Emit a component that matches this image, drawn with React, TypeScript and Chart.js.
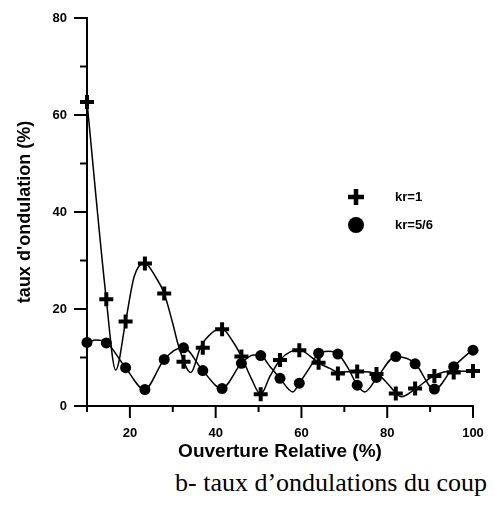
import React, { useEffect, useRef } from "react";
import { Chart, registerables } from "chart.js";

Chart.register(...registerables);

// marker positions
const openings = [10, 14.5, 19, 23.5, 28, 32.5, 37, 41.5, 46, 50.5, 55, 59.5, 64, 68.5, 73, 77.5, 82, 86.5, 91, 95.5, 100];
const krOne = [62.7, 22.0, 17.4, 29.4, 23.2, 9.1, 12.0, 15.8, 10.2, 2.4, 9.5, 11.5, 8.9, 6.7, 7.1, 6.6, 2.6, 3.6, 6.2, 6.9, 7.2];
const krFiveSixths = [13.1, 13.0, 7.9, 3.4, 9.6, 12.0, 7.3, 3.6, 8.8, 10.4, 5.7, 4.7, 10.9, 10.7, 4.3, 5.9, 10.2, 8.7, 3.5, 8.1, 11.5];

// continuous curves (including unmarked extremes)
const krOneCurveX = [10, 14.5, 16.7, 19, 21, 23.4, 26, 28, 30, 31.4, 34.2, 36.5, 39, 41.4, 44, 46, 48.3, 50.5, 52.7, 55, 57.5, 59.8, 62, 64, 66.5, 68.6, 73.2, 77.7, 80, 83.3, 86.5, 91, 95.5, 100];
const krOneCurveY = [62.7, 22.0, 7.4, 17.4, 26.7, 29.5, 26.6, 23.2, 17.0, 12.2, 6.9, 12.2, 15.0, 16.0, 13.3, 10.2, 5.7, 2.4, 6.2, 9.5, 11.2, 11.5, 10.3, 8.9, 7.8, 7.0, 7.1, 6.6, 4.7, 1.9, 3.5, 6.3, 7.2, 7.1];
const krFiveSixthsCurveX = [10, 12.2, 14.5, 19, 23.4, 28, 32.4, 37, 41.4, 46, 48.8, 50.5, 52.7, 55, 58, 59.5, 62, 64, 66.3, 68.6, 71, 73, 74.8, 77.5, 82, 86.5, 91, 95.5, 100];
const krFiveSixthsCurveY = [13.1, 13.6, 13.1, 7.9, 3.4, 9.6, 12.1, 7.3, 3.6, 8.8, 10.5, 10.4, 8.1, 5.7, 2.9, 4.7, 8.0, 10.9, 11.3, 10.7, 7.6, 4.3, 2.9, 5.7, 10.2, 8.8, 3.4, 8.1, 11.7];

const xTickLabels = [20, 40, 60, 80, 100];
const yTickLabels = [0, 20, 40, 60, 80];
const seriesNames = ["kr=1", "kr=5/6"];
const xTitle = "Ouverture Relative (%)";
const yTitle = "taux d'ondulation (%)";
const caption = "b- taux d\u2019ondulations du coup";

const FONT = "Arial, 'Liberation Sans', sans-serif";

const tickMarksPlugin = {
  id: "tickMarks",
  afterDraw(chart: any) {
    const ctx = chart.ctx;
    const xs = chart.scales.x;
    const ysc = chart.scales.y;
    const area = chart.chartArea;
    ctx.save();
    ctx.strokeStyle = "#000";
    ctx.lineWidth = 2;
    for (let v = 10; v <= 100; v += 10) {
      const X = xs.getPixelForValue(v);
      const len = v % 20 === 0 ? 12 : 6;
      ctx.beginPath();
      ctx.moveTo(X, area.bottom);
      ctx.lineTo(X, area.bottom + len);
      ctx.stroke();
    }
    for (let v = 0; v <= 80; v += 10) {
      const Y = ysc.getPixelForValue(v);
      const len = v % 20 === 0 ? 13 : 7;
      ctx.beginPath();
      ctx.moveTo(area.left, Y);
      ctx.lineTo(area.left - len, Y);
      ctx.stroke();
    }
    ctx.restore();
  },
};

const legendPlugin = {
  id: "customLegend",
  afterDraw(chart: any) {
    const ctx = chart.ctx;
    const mx = 356;
    const tx = 395;
    const y1 = 197;
    const y2 = 225;
    ctx.save();
    ctx.strokeStyle = "#000";
    ctx.fillStyle = "#000";
    ctx.lineWidth = 4.5;
    ctx.beginPath();
    ctx.moveTo(mx - 8, y1);
    ctx.lineTo(mx + 8, y1);
    ctx.moveTo(mx, y1 - 8);
    ctx.lineTo(mx, y1 + 8);
    ctx.stroke();
    ctx.beginPath();
    ctx.arc(mx, y2, 8, 0, Math.PI * 2);
    ctx.fill();
    ctx.font = "bold 13px " + FONT;
    ctx.textBaseline = "middle";
    ctx.textAlign = "left";
    ctx.fillText(seriesNames[0], tx, y1);
    ctx.fillText(seriesNames[1], tx, y2);
    ctx.restore();
  },
};

const curveStyle = {
  showLine: true,
  pointRadius: 0,
  pointHoverRadius: 0,
  borderColor: "#000",
  borderWidth: 1.5,
  cubicInterpolationMode: "monotone",
  fill: false,
  clip: false,
};

export default function App() {
  const ref = useRef<HTMLCanvasElement | null>(null);

  useEffect(() => {
    if (!ref.current) return;
    const chart = new Chart(ref.current, {
      type: "scatter",
      data: {
        datasets: [
          {
            label: seriesNames[0],
            data: openings.map((x, i) => ({ x, y: krOne[i] })),
            showLine: false,
            pointStyle: "cross",
            pointRadius: 7,
            pointHoverRadius: 7,
            pointBorderWidth: 4,
            pointHoverBorderWidth: 4,
            borderColor: "#000",
            backgroundColor: "#000",
            clip: false,
          } as any,
          {
            label: seriesNames[1],
            data: openings.map((x, i) => ({ x, y: krFiveSixths[i] })),
            showLine: false,
            pointStyle: "circle",
            pointRadius: 5.5,
            pointHoverRadius: 5.5,
            pointBorderWidth: 0,
            borderColor: "#000",
            backgroundColor: "#000",
            clip: false,
          } as any,
          {
            label: seriesNames[0] + " curve",
            data: krOneCurveX.map((x, i) => ({ x, y: krOneCurveY[i] })),
            ...curveStyle,
          } as any,
          {
            label: seriesNames[1] + " curve",
            data: krFiveSixthsCurveX.map((x, i) => ({ x, y: krFiveSixthsCurveY[i] })),
            ...curveStyle,
          } as any,
        ],
      },
      options: {
        animation: false,
        responsive: false,
        devicePixelRatio: 1,
        events: [],
        layout: { padding: { left: 0, top: 18, right: 22, bottom: 0 } },
        plugins: {
          legend: { display: false },
          tooltip: { enabled: false },
        },
        scales: {
          x: {
            type: "linear",
            min: 10,
            max: 100,
            afterBuildTicks: (s: any) => {
              s.ticks = xTickLabels.map((v) => ({ value: v }));
            },
            afterFit: (s: any) => {
              s.height = 59;
              s.paddingLeft = 0;
              s.paddingRight = 0;
            },
            grid: { display: false, drawTicks: false, tickLength: 0 },
            border: { display: true, color: "#000", width: 2 },
            ticks: {
              color: "#000",
              padding: 20,
              maxRotation: 0,
              autoSkip: false,
              font: { family: FONT, size: 13, weight: "bold" },
            },
            title: {
              display: true,
              text: xTitle,
              color: "#000",
              font: { family: FONT, size: 19, weight: "bold" },
              padding: { top: 0, bottom: 2 },
            },
          },
          y: {
            type: "linear",
            min: 0,
            max: 80,
            afterBuildTicks: (s: any) => {
              s.ticks = yTickLabels.map((v) => ({ value: v }));
            },
            afterFit: (s: any) => {
              s.width = 87;
              s.paddingTop = 0;
              s.paddingBottom = 0;
            },
            grid: { display: false, drawTicks: false, tickLength: 0 },
            border: { display: true, color: "#000", width: 2 },
            ticks: {
              color: "#000",
              padding: 20,
              autoSkip: false,
              font: { family: FONT, size: 13, weight: "bold" },
            },
            title: {
              display: true,
              text: yTitle,
              color: "#000",
              font: { family: FONT, size: 18, weight: "bold" },
              padding: { top: 14, bottom: 0 },
            },
          },
        },
      } as any,
      plugins: [tickMarksPlugin, legendPlugin],
    });
    return () => chart.destroy();
  }, []);

  return (
    <div style={{ position: "absolute", left: 0, top: 0, width: 495, height: 508, background: "#fff", overflow: "hidden" }}>
      <canvas ref={ref} width={495} height={465} style={{ display: "block" }} />
      <div
        style={{
          position: "absolute",
          left: 175,
          top: 468,
          fontFamily: "'Liberation Serif', 'Times New Roman', serif",
          fontSize: 26,
          lineHeight: "30px",
          whiteSpace: "nowrap",
          color: "#000",
        }}
      >
        {caption}
      </div>
    </div>
  );
}
